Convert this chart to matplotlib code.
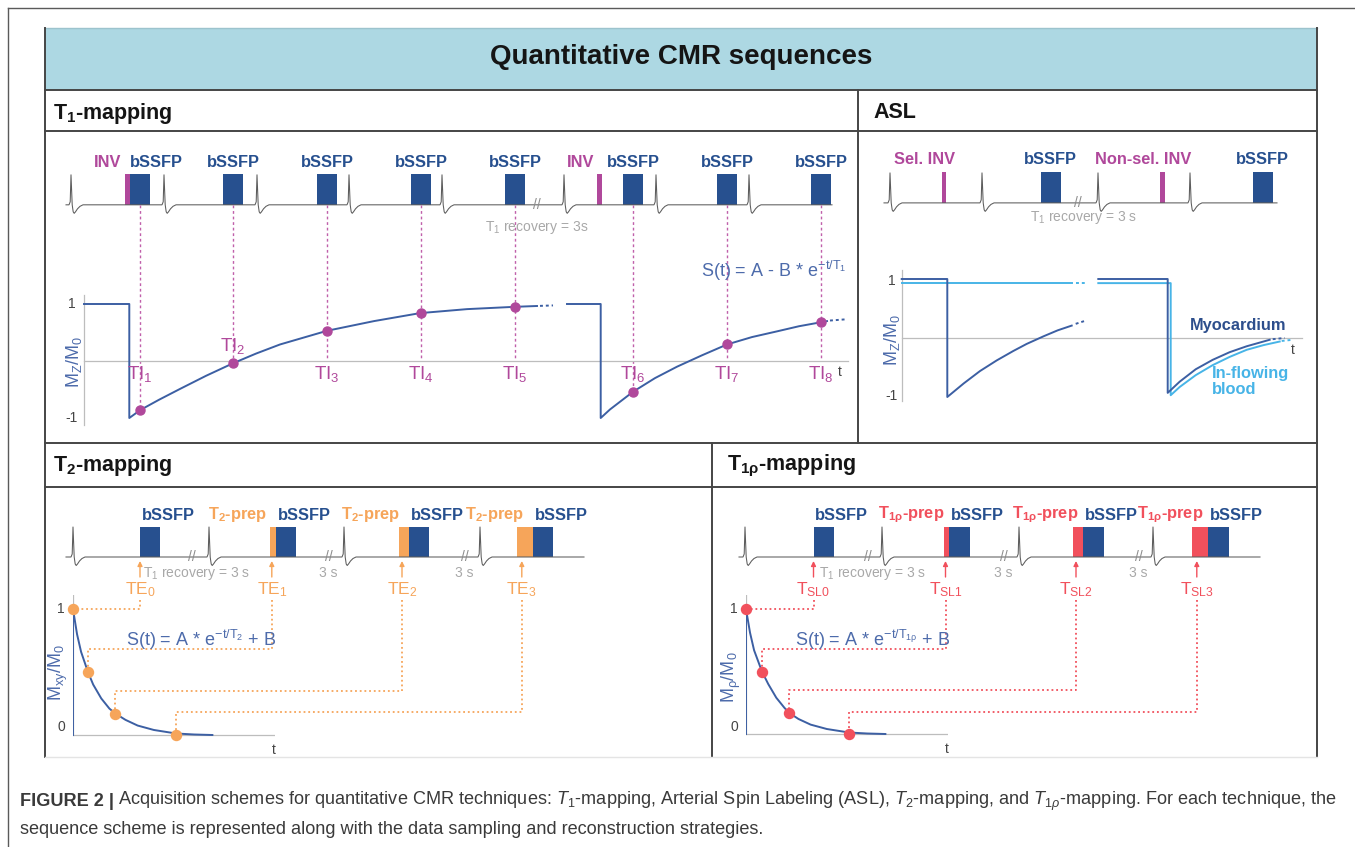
import matplotlib
matplotlib.use('Agg')
import matplotlib.pyplot as plt
from matplotlib.patches import Rectangle

# ---------------- values ----------------
# T1-mapping: time in arbitrary units, longitudinal magnetisation Mz/M0
t1_ecg = [-1.3, 8.0, 17.3, 26.5, 35.8, 48.0, 57.2, 66.5]
t1_inv = [4.3, 51.6]
t1_bssfp = [5.6, 14.9, 24.3, 33.7, 43.1, 54.9, 64.3, 73.7]
t1_ti_mz = [-0.86, -0.04, 0.53, 0.84, 0.95, -0.54, 0.29, 0.68]
t1_ti_names = ['TI$_{%d}$' % i for i in range(1, 9)]
t1_break = 45.3
t1_curve1_t = [0, 4.53, 4.53, 5.63, 7.5, 9.6, 12.2, 14.9, 17.2, 19.6, 24.3, 29.0, 33.6, 38.3, 43.0, 45.3]
t1_curve1_mz = [1, 1, -1.0, -0.86, -0.68, -0.49, -0.26, -0.04, 0.13, 0.29, 0.53, 0.70, 0.84, 0.91, 0.95, 0.965]
t1_tail1_t = [45.6, 46.9]
t1_tail1_mz = [0.967, 0.975]
t1_curve2_t = [48.3, 51.67, 51.67, 52.6, 54.9, 57.1, 59.3, 61.8, 64.3, 66.8, 69.3, 71.5, 73.7, 74.3]
t1_curve2_mz = [1, 1, -1.0, -0.85, -0.54, -0.30, -0.10, 0.10, 0.29, 0.42, 0.52, 0.61, 0.68, 0.70]
t1_tail2_t = [74.6, 76.1]
t1_tail2_mz = [0.71, 0.73]

# ASL
asl_ecg = [-1.17, 8.03, 19.63, 28.83]
asl_inv = [4.23, 26.06]
asl_inv_names = ['Sel. INV', 'Non-sel. INV']
asl_bssfp = [14.91, 36.1]
asl_break = 17.6
asl_myo1_t = [0, 4.56, 4.56, 6.2, 7.83, 9.5, 11.16, 12.5, 14.2, 15.6, 17.0]
asl_myo1_mz = [1, 1, -1.0, -0.77, -0.56, -0.38, -0.22, -0.10, 0.03, 0.13, 0.21]
asl_myo1_tail_t = [17.4, 18.5]
asl_myo1_tail_mz = [0.24, 0.30]
asl_myo2_t = [19.66, 26.6, 26.6, 27.8, 29.4, 31.1, 32.8, 34.5, 36.8]
asl_myo2_mz = [1, 1, -0.93, -0.74, -0.53, -0.37, -0.24, -0.14, -0.03]
asl_myo2_tail_t = [37.1, 38.3]
asl_myo2_tail_mz = [-0.02, 0.0]
asl_blood1_t = [0, 17.0]
asl_blood1_mz = [0.93, 0.93]
asl_blood1_tail_t = [17.4, 18.5]
asl_blood1_tail_mz = [0.93, 0.93]
asl_blood2_t = [19.66, 26.9, 26.9, 27.8, 29.4, 31.1, 32.8, 34.5, 36.2, 37.8]
asl_blood2_mz = [0.93, 0.93, -0.97, -0.83, -0.63, -0.46, -0.32, -0.20, -0.12, -0.06]
asl_blood2_tail_t = [38.0, 39.1]
asl_blood2_tail_mz = [-0.05, -0.03]

# T2-mapping
t2_ecg = [2.8, 16.4, 29.9, 43.5]
t2_bssfp = [9.5, 23.1, 36.4, 48.8]
t2_prep = [0, 0.6, 1.0, 1.6]
t2_breaks = [14.7, 28.4, 42.0]
t2_te = [0, 7.4, 21.0, 51.0]
t2_sig = [1.0, 0.50, 0.17, 0.0]
t2_curve_t = [0, 0, 2, 4, 7.4, 10, 14, 18, 21, 26, 32, 40, 51, 60, 69]
t2_curve_s = [0, 1.0, 0.80, 0.66, 0.50, 0.40, 0.29, 0.21, 0.17, 0.12, 0.075, 0.04, 0.012, 0.004, 0.0]

# T1rho-mapping
t1r_ecg = [3.3, 17.0, 30.7, 44.1]
t1r_bssfp = [10.15, 23.7, 37.1, 49.6]
t1r_prep = [0, 0.5, 1.0, 1.6]
t1r_breaks = [15.6, 29.2, 42.7]
t1r_tsl = [0, 7.9, 21.3, 51.0]
t1r_sig = [1.0, 0.50, 0.17, 0.0]
t1r_curve_t = [0, 0, 2, 4, 7.9, 11, 15, 19, 21.3, 26, 32, 40, 51, 60, 69]
t1r_curve_s = [0, 1.0, 0.81, 0.67, 0.50, 0.40, 0.29, 0.21, 0.17, 0.12, 0.075, 0.04, 0.012, 0.004, 0.0]

# ---------------- style ----------------
plt.rcParams['font.family'] = ['Liberation Sans', 'DejaVu Sans']
plt.rcParams['mathtext.fontset'] = 'custom'
plt.rcParams['mathtext.rm'] = 'Liberation Sans'
plt.rcParams['mathtext.it'] = 'Liberation Sans:italic'
plt.rcParams['mathtext.bf'] = 'Liberation Sans:bold'
plt.rcParams['mathtext.default'] = 'regular'

NAVY = '#27508f'
CURVE = '#3c5fa3'
EQ = '#4d6bab'
MAGENTA = '#b0489b'
ORANGE = '#f6a55a'
RED = '#f1505c'
LIGHT = '#47b4e7'
GREY_TXT = '#a8a8a8'
AX_GREY = '#bdbdbd'
ECG_COL = '#5c5c5c'
FRAME = '#454545'
HEADER = '#add8e3'

ECG_SHAPE = [(-2, 0), (-0.8, 3), (0, 30), (1.2, 0), (2.2, -7), (3.2, -8.5),
             (4.5, -7), (6.5, -4), (9, -1.5), (12, 0)]

lab_kw = dict(fontsize=11.8, fontweight='bold', va='center')
note_kw = dict(fontsize=10, color=GREY_TXT, ha='center', va='center')
break_kw = dict(fontsize=10, color='#8c8c8c', ha='center', va='center')
tick_kw = dict(fontsize=10, color='#444444', ha='center', va='center')

W, H = 1355, 847
fig = plt.figure(figsize=(W / 100, H / 100), dpi=100)
base_ax = fig.add_axes([0, 0, 1, 1])
base_ax.set_xlim(0, W)
base_ax.set_ylim(H, 0)
base_ax.axis('off')


def box_axes(x0, y0, x1, y1, ox, oy, kx, ky):
    # axes over a pixel box; data units = pixels / (kx, ky) from origin (ox, oy)
    ax = fig.add_axes([x0 / W, 1 - y1 / H, (x1 - x0) / W, (y1 - y0) / H])
    ax.set_xlim((x0 - ox) / kx, (x1 - ox) / kx)
    ax.set_ylim((oy - y1) / ky, (oy - y0) / ky)
    ax.axis('off')
    return ax


def draw_ecg(ax, spikes, span, base, kx, ky):
    xs, ys = [span[0]], [base]
    for s in spikes:
        for dx, dy in ECG_SHAPE:
            xs.append(s + dx / kx)
            ys.append(base + dy / ky)
    xs.append(span[1])
    ys.append(base)
    ax.plot(xs, ys, color=ECG_COL, lw=0.75)


def to_ax(src, dst, x, y):
    return dst.transData.inverted().transform(src.transData.transform((x, y)))


# ---------------- frames and headers ----------------
base_ax.plot([8, W], [8, 8], color='#5a5a5a', lw=1.0)
base_ax.plot([8, 8], [8, H], color='#5a5a5a', lw=1.0)
base_ax.add_patch(Rectangle((45, 28), 1272, 62, facecolor=HEADER, edgecolor='none'))
base_ax.plot([45, 1317], [28, 28], color='#9cc3cd', lw=1.0)
for (xa, xb), (ya, yb) in [((45, 45), (28, 757)), ((1317, 1317), (28, 757)),
                           ((45, 1317), (90, 90)), ((45, 1317), (131, 131)),
                           ((858, 858), (90, 443)), ((45, 1317), (443, 443)),
                           ((45, 1317), (487, 487)), ((712, 712), (443, 757))]:
    base_ax.plot([xa, xb], [ya, yb], color=FRAME, lw=1.4)
base_ax.plot([45, 1317], [757, 757], color='#e4e4e4', lw=1.0)

base_ax.text(681, 57, 'Quantitative CMR sequences', fontsize=20, fontweight='bold',
             ha='center', va='center', color='#151515')
title_kw = dict(fontsize=15.5, fontweight='bold', ha='left', va='center', color='#151515')
base_ax.text(53, 113, r'T$_\mathbf{1}$-mapping', **title_kw)
base_ax.text(873, 112, 'ASL', **title_kw)
base_ax.text(53, 466, r'T$_\mathbf{2}$-mapping', **title_kw)
base_ax.text(727, 466, r'T$_\mathbf{1ρ}$-mapping', **title_kw)

# ---------------- T1-mapping ----------------
ax1 = box_axes(45, 132, 858, 443, 84, 361, 10, 57)
base, bh, ly = 2.74, 0.54, 3.49
draw_ecg(ax1, t1_ecg, (-1.8, 74.8), base, 10, 57)
ax1.text(t1_break, base, '//', **break_kw)
ax1.text(t1_break, base - 0.39, 'T$_1$ recovery = 3s', **note_kw)
for x in t1_inv:
    ax1.add_patch(Rectangle((x - 0.25, base), 0.5, bh, color=MAGENTA, lw=0))
    ax1.text(x - 0.6, ly, 'INV', ha='right', color=MAGENTA, **lab_kw)
for x, v, name in zip(t1_bssfp, t1_ti_mz, t1_ti_names):
    left = x - 0.97
    ax1.add_patch(Rectangle((left, base), 1.95, bh, color=NAVY, lw=0))
    if any(0 < left - i < 0.6 for i in t1_inv):
        ax1.text(left, ly, 'bSSFP', ha='left', color=NAVY, **lab_kw)
    else:
        ax1.text(x, ly, 'bSSFP', ha='center', color=NAVY, **lab_kw)
    ax1.plot([x, x], [base, min(v, 0)], color='#c060aa', lw=1.0, ls=(0, (2, 2)), zorder=2)
    ax1.text(x, 0.27 if abs(v) < 0.15 else -0.22, name, ha='center', va='center',
             color=MAGENTA, fontsize=13.5)

ax1.plot([0, 0], [-1.12, 1.16], color=AX_GREY, lw=0.9)
ax1.plot([0, 76.4], [0, 0], color=AX_GREY, lw=0.9)
ax1.plot(t1_curve1_t, t1_curve1_mz, color=CURVE, lw=1.4)
ax1.plot(t1_curve2_t, t1_curve2_mz, color=CURVE, lw=1.4)
ax1.plot(t1_tail1_t, t1_tail1_mz, color=CURVE, lw=1.4, ls=(0, (1.5, 1.5)))
ax1.plot(t1_tail2_t, t1_tail2_mz, color=CURVE, lw=1.4, ls=(0, (1.5, 1.5)))
ax1.plot(t1_bssfp, t1_ti_mz, 'o', color=MAGENTA, ms=6.5, zorder=5)
ax1.text(-1.2, 1.0, '1', **tick_kw)
ax1.text(-1.2, -1.0, '-1', **tick_kw)
ax1.text(75.6, -0.19, 't', **tick_kw)
ax1.text(-1.0, -0.02, 'M$_Z$/M$_0$', rotation=90, ha='center', va='center', color=EQ, fontsize=13)
ax1.text(69.0, 1.58, r'S(t) = A - B * e$^{-t/T_1}$', ha='center', va='center', color=EQ, fontsize=13)

# ---------------- ASL ----------------
ax2 = box_axes(858, 132, 1317, 443, 901.7, 338, 10, 59)
base, bh, ly = 2.29, 0.525, 3.03
draw_ecg(ax2, asl_ecg, (-1.77, 37.53), base, 10, 59)
ax2.text(asl_break, base, '//', **break_kw)
ax2.text(asl_break + 0.6, 2.05, 'T$_1$ recovery = 3 s', **note_kw)
for x, name in zip(asl_inv, asl_inv_names):
    ax2.add_patch(Rectangle((x - 0.23, base), 0.46, bh, color=MAGENTA, lw=0))
    ax2.text(x - 1.9, ly, name, ha='center', color=MAGENTA, **lab_kw)
for x in asl_bssfp:
    ax2.add_patch(Rectangle((x - 1.0, base), 2.0, bh, color=NAVY, lw=0))
    ax2.text(x, ly, 'bSSFP', ha='center', color=NAVY, **lab_kw)

ax2.plot([0, 0], [-1.07, 1.15], color=AX_GREY, lw=0.9)
ax2.plot([0, 40.0], [0, 0], color=AX_GREY, lw=0.9)
dots = (0, (1.5, 1.5))
ax2.plot(asl_blood1_t, asl_blood1_mz, color=LIGHT, lw=1.4)
ax2.plot(asl_blood1_tail_t, asl_blood1_tail_mz, color=LIGHT, lw=1.4, ls=dots)
ax2.plot(asl_blood2_t, asl_blood2_mz, color=LIGHT, lw=1.4)
ax2.plot(asl_blood2_tail_t, asl_blood2_tail_mz, color=LIGHT, lw=1.4, ls=dots)
ax2.plot(asl_myo1_t, asl_myo1_mz, color=CURVE, lw=1.4)
ax2.plot(asl_myo1_tail_t, asl_myo1_tail_mz, color=CURVE, lw=1.4, ls=dots)
ax2.plot(asl_myo2_t, asl_myo2_mz, color=CURVE, lw=1.4)
ax2.plot(asl_myo2_tail_t, asl_myo2_tail_mz, color=CURVE, lw=1.4, ls=dots)
ax2.text(-1.0, 0.97, '1', **tick_kw)
ax2.text(-1.0, -0.99, '-1', **tick_kw)
ax2.text(39.1, -0.21, 't', **tick_kw)
ax2.text(-1.0, -0.03, 'M$_Z$/M$_0$', rotation=90, ha='center', va='center', color=EQ, fontsize=13)
ax2.text(33.6, 0.22, 'Myocardium', ha='center', va='center', color='#2d4e8c',
         fontsize=11.8, fontweight='bold')
ax2.text(31.0, -0.60, 'In-flowing', ha='left', va='center', color=LIGHT,
         fontsize=11.8, fontweight='bold')
ax2.text(31.0, -0.87, 'blood', ha='left', va='center', color=LIGHT,
         fontsize=11.8, fontweight='bold')


# ---------------- T2 / T1rho ----------------
def draw_prep_panel(ax, ins, ecg, span, starts, preps, breaks, col, prep_txt, echo_txt,
                    times, sig, ct, cs, eq, eq_x, ylab, ylab_xy, gap, bw):
    base, bh, ly = 20.0, 3.0, 24.2
    draw_ecg(ax, ecg, span, base, 10, 10)
    for i, b in enumerate(breaks):
        ax.text(b, base, '//', **break_kw)
        ax.text(b + (0.5 if i == 0 else -0.1), 18.4,
                'T$_1$ recovery = 3 s' if i == 0 else '3 s', **note_kw)
    for k, (s, p) in enumerate(zip(starts, preps)):
        ax.add_patch(Rectangle((s, base), bw, bh, color=NAVY, lw=0))
        ax.text(s + 0.15, ly, 'bSSFP', ha='left', color=NAVY, **lab_kw)
        if p > 0:
            ax.add_patch(Rectangle((s - p, base), p, bh, color=col, lw=0))
            ax.text(s - gap, ly, prep_txt, ha='right', color=col, **lab_kw)
        xa = s - 0.7 * p
        ax.annotate('', xy=(xa, 19.6), xytext=(xa, 18.0),
                    arrowprops=dict(arrowstyle='-|>', color=col, lw=1.0,
                                    mutation_scale=7, shrinkA=0, shrinkB=0))
        ax.text(xa, 16.7, echo_txt.format(k), ha='center', va='center', color=col, fontsize=12.5)
        dx, dy = to_ax(ins, ax, times[k], sig[k])
        if k == 0:
            path = [(xa, 15.7), (xa, dy), (dx, dy)]
        else:
            ey = to_ax(ins, ax, times[k], sig[k] + 0.18)[1]
            path = [(xa, 15.7), (xa, ey), (dx, ey), (dx, dy)]
        px, py = zip(*path)
        ax.plot(px, py, color=col, lw=1.3, ls=(0, (1, 1.6)))
    ax.text(eq_x, 11.75, eq, ha='left', va='center', color=EQ, fontsize=13)
    ax.text(ylab_xy[0], ylab_xy[1], ylab, rotation=90, ha='center', va='center',
            color=EQ, fontsize=13)

    ins.plot([0, 0], [0, 1.11], color=AX_GREY, lw=0.9)
    ins.plot([0, 100], [0, 0], color=AX_GREY, lw=0.9)
    ins.plot(ct, cs, color=CURVE, lw=1.4)
    ins.plot(times, sig, 'o', color=col, ms=7.2, zorder=5, clip_on=False)
    ins.text(-5.9, 1.0, '1', **tick_kw)
    ins.text(-5.9, 0.06, '0', **tick_kw)
    ins.text(99.5, -0.12, 't', **tick_kw)


ax3 = box_axes(45, 487, 712, 757, 45, 757, 10, 10)
ins3 = box_axes(73, 595, 275, 757, 73, 735, 2.02, 126)
draw_prep_panel(ax3, ins3, t2_ecg, (2.1, 53.9), t2_bssfp, t2_prep, t2_breaks, ORANGE,
                r'T$_\mathbf{2}$-prep', 'TE$_{{{}}}$', t2_te, t2_sig, t2_curve_t, t2_curve_s,
                r'S(t) = A * e$^{-t/T_2}$ + B', 8.1, 'M$_{xy}$/M$_0$', (1.3, 8.4), 0.9, 2.0)

ax4 = box_axes(712, 487, 1317, 757, 712, 757, 10, 10)
ins4 = box_axes(746, 595, 948, 757, 746, 734, 2.02, 125)
draw_prep_panel(ax4, ins4, t1r_ecg, (2.7, 54.8), t1r_bssfp, t1r_prep, t1r_breaks, RED,
                r'T$_\mathbf{1ρ}$-prep', 'T$_{{SL{}}}$', t1r_tsl, t1r_sig, t1r_curve_t, t1r_curve_s,
                r'S(t) = A * e$^{-t/T_{1ρ}}$ + B', 8.3, 'M$_ρ$/M$_0$', (1.9, 8.0), 0.45, 2.05)

# ---------------- caption ----------------
cap_kw = dict(va='center', color='#3a3a3a', family=['Liberation Sans Narrow', 'Liberation Sans'])
line1 = (r'Acquisition schemes for quantitative CMR techniques: $\mathit{T}_1$-mapping, '
         r'Arterial Spin Labeling (ASL), $\mathit{T}_2$-mapping, and $\mathit{T}_{1\mathit{ρ}}$-mapping. '
         'For each technique, the')
line2 = 'sequence scheme is represented along with the data sampling and reconstruction strategies.'
size = 11
cb = base_ax.text(20, 801, 'FIGURE 2 |', fontsize=size, fontweight='bold', **cap_kw)
c1 = base_ax.text(100, 801, line1, fontsize=size, **cap_kw)
c2 = base_ax.text(20, 829, line2, fontsize=size, **cap_kw)
renderer = fig.canvas.get_renderer()
gap = 4
wb = cb.get_window_extent(renderer).width
w1 = c1.get_window_extent(renderer).width
scale = (1332 - 20 - gap) / (wb + w1)
for t in (cb, c1, c2):
    t.set_fontsize(size * scale)
wb = cb.get_window_extent(renderer).width
c1.set_x(20 + wb + gap)

fig.savefig('out.png', dpi=100)
